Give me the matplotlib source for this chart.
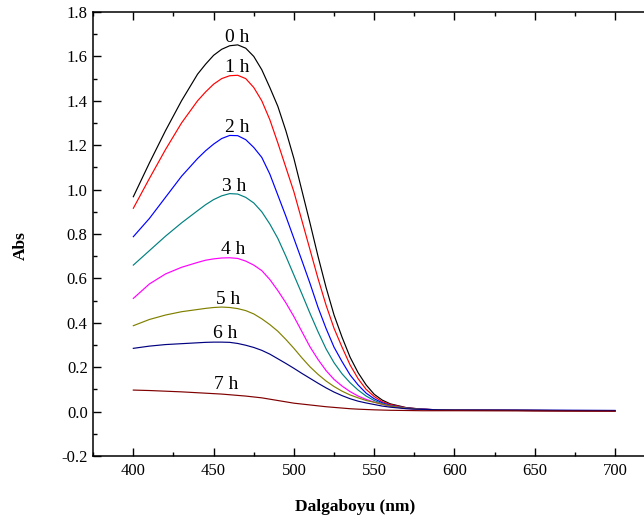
import matplotlib
matplotlib.use('Agg')
from matplotlib import pyplot as plt
from matplotlib.ticker import MultipleLocator, FormatStrFormatter

plt.rcParams['font.family'] = ['Liberation Serif', 'DejaVu Serif']

# wavelength grid (nm)
wl = [400, 410, 420, 430, 440,
      445, 450, 455, 460, 465, 470, 475, 480, 485, 490, 495, 500,
      505, 510, 515, 520, 525, 530, 535, 540, 545, 550, 555, 560,
      570, 580, 590, 600, 650, 700]

abs_0h = [0.968, 1.12, 1.265, 1.40, 1.52,
          1.565, 1.605, 1.632, 1.648, 1.652, 1.637, 1.60, 1.54, 1.46, 1.375, 1.265, 1.14,
          0.995, 0.85, 0.70, 0.56, 0.435, 0.335, 0.245, 0.175, 0.12, 0.078, 0.052, 0.035,
          0.018, 0.011, 0.008, 0.007, 0.005, 0.003]
abs_1h = [0.916, 1.05, 1.18, 1.30, 1.40,
          1.44, 1.475, 1.50, 1.513, 1.515, 1.50, 1.46, 1.40, 1.315, 1.21, 1.10, 0.99,
          0.86, 0.73, 0.60, 0.48, 0.375, 0.29, 0.21, 0.148, 0.10, 0.068, 0.045, 0.032,
          0.017, 0.011, 0.008, 0.007, 0.005, 0.003]
abs_2h = [0.788, 0.87, 0.965, 1.06, 1.14,
          1.175, 1.205, 1.23, 1.244, 1.243, 1.225, 1.19, 1.145, 1.07, 0.975, 0.88, 0.78,
          0.68, 0.578, 0.47, 0.375, 0.29, 0.225, 0.165, 0.12, 0.083, 0.058, 0.04, 0.028,
          0.016, 0.011, 0.008, 0.007, 0.006, 0.005]
abs_3h = [0.66, 0.725, 0.79, 0.85, 0.905,
          0.932, 0.955, 0.972, 0.982, 0.98, 0.965, 0.94, 0.90, 0.845, 0.78, 0.70, 0.615,
          0.53, 0.443, 0.36, 0.283, 0.22, 0.17, 0.13, 0.097, 0.07, 0.05, 0.036, 0.026,
          0.015, 0.01, 0.008, 0.007, 0.005, 0.004]
abs_4h = [0.51, 0.575, 0.62, 0.65, 0.672,
          0.682, 0.688, 0.692, 0.693, 0.69, 0.678, 0.66, 0.635, 0.595, 0.545, 0.49, 0.428,
          0.36, 0.292, 0.235, 0.185, 0.145, 0.115, 0.09, 0.07, 0.055, 0.043, 0.033, 0.025,
          0.014, 0.01, 0.008, 0.007, 0.005, 0.004]
abs_5h = [0.387, 0.415, 0.435, 0.45, 0.46,
          0.465, 0.469, 0.471, 0.469, 0.464, 0.455, 0.44, 0.418, 0.392, 0.362, 0.325, 0.285,
          0.242, 0.202, 0.168, 0.138, 0.113, 0.092, 0.075, 0.062, 0.05, 0.042, 0.033, 0.025,
          0.015, 0.01, 0.008, 0.007, 0.005, 0.004]
abs_6h = [0.285, 0.295, 0.302, 0.306, 0.31,
          0.312, 0.313, 0.313, 0.312, 0.307, 0.299, 0.289, 0.276, 0.259, 0.238, 0.217, 0.195,
          0.172, 0.15, 0.128, 0.107, 0.088, 0.072, 0.058, 0.047, 0.039, 0.032, 0.025, 0.02,
          0.013, 0.01, 0.008, 0.007, 0.006, 0.005]
abs_7h = [0.097, 0.095, 0.092, 0.089, 0.085,
          0.083, 0.081, 0.079, 0.076, 0.073, 0.07, 0.066, 0.062, 0.056, 0.05, 0.044, 0.038,
          0.034, 0.03, 0.026, 0.022, 0.019, 0.016, 0.013, 0.011, 0.0095, 0.008, 0.007, 0.006,
          0.005, 0.004, 0.004, 0.004, 0.003, 0.002]

series = [abs_0h, abs_1h, abs_2h, abs_3h, abs_4h, abs_5h, abs_6h, abs_7h]
labels = ['0 h', '1 h', '2 h', '3 h', '4 h', '5 h', '6 h', '7 h']
colors = ['#000000', '#ff0000', '#0000ff', '#008080', '#ff00ff', '#808000', '#000080', '#800000']
# label anchor positions (x nm, y abs)
label_x = [464.6, 464.6, 464.6, 462.8, 462.0, 459.0, 457.0, 457.7]
label_y = [1.683, 1.548, 1.282, 1.016, 0.732, 0.503, 0.350, 0.124]

fig = plt.figure(figsize=(6.44, 5.27), dpi=100)
ax = fig.add_axes([0.1447, 0.1347, 0.8727, 0.8425])

for y, c in zip(series, colors):
    ax.plot(wl, y, color=c, lw=0.85)

for lx, ly, lab in zip(label_x, label_y, labels):
    ax.text(lx, ly, lab, ha='center', va='center', fontsize=14)

ax.set_xlim(375, 725)
ax.set_ylim(-0.2, 1.8)
ax.xaxis.set_major_locator(MultipleLocator(50))
ax.xaxis.set_minor_locator(MultipleLocator(25))
ax.yaxis.set_major_locator(MultipleLocator(0.2))
ax.yaxis.set_minor_locator(MultipleLocator(0.1))
ax.yaxis.set_major_formatter(FormatStrFormatter('%.1f'))
ax.tick_params(which='both', direction='in', top=True, right=True, labelsize=12, width=1.0)
ax.tick_params(which='major', length=6)
ax.tick_params(which='minor', length=3)
ax.tick_params(axis='x', pad=5)
ax.tick_params(axis='y', pad=4)
for s in ax.spines.values():
    s.set_linewidth(1.1)

ax.set_xlabel('Dalgaboyu (nm)', fontsize=12.5, fontweight='bold')
ax.xaxis.set_label_coords(0.466, -0.097)
ax.set_ylabel('Abs', fontsize=12.5, fontweight='bold')
ax.yaxis.set_label_coords(-0.114, 0.475)

fig.savefig('out.png', dpi=100)
plt.close(fig)
